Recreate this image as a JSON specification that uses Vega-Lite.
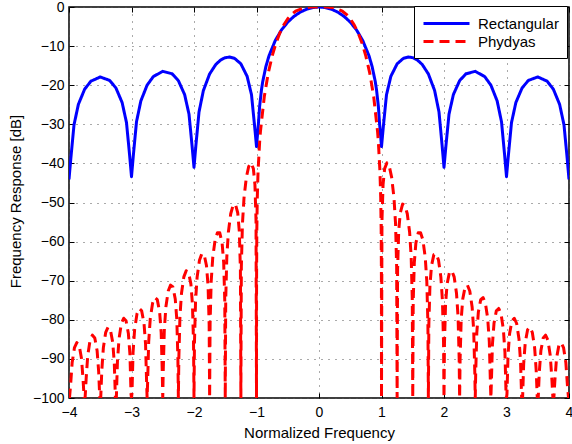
{
  "$schema": "https://vega.github.io/schema/vega-lite/v6.json",
  "autosize": {"type": "none"},
  "padding": {"left": 69, "top": 7, "right": 3, "bottom": 46},
  "width": 500,
  "height": 391,
  "background": "white",
  "data": {"values": [
    {"s":"Rectangular","f":0,"db":0},
    {"s":"Rectangular","f":0.1,"db":-0.14},{"s":"Rectangular","f":0.2,"db":-0.57},{"s":"Rectangular","f":0.3,"db":-1.31},{"s":"Rectangular","f":0.4,"db":-2.38},{"s":"Rectangular","f":0.5,"db":-3.87},{"s":"Rectangular","f":0.6,"db":-5.86},{"s":"Rectangular","f":0.7,"db":-8.58},{"s":"Rectangular","f":0.8,"db":-12.48},{"s":"Rectangular","f":0.85,"db":-15.23},{"s":"Rectangular","f":0.9,"db":-19.05},{"s":"Rectangular","f":0.92,"db":-21.12},{"s":"Rectangular","f":0.95,"db":-25.41},{"s":"Rectangular","f":0.97,"db":-29.99},{"s":"Rectangular","f":1,"db":-35.7},
    {"s":"Rectangular","f":1.03,"db":-30.49},{"s":"Rectangular","f":1.08,"db":-22.44},{"s":"Rectangular","f":1.15,"db":-17.72},{"s":"Rectangular","f":1.25,"db":-14.54},{"s":"Rectangular","f":1.35,"db":-13.14},{"s":"Rectangular","f":1.43,"db":-12.8},{"s":"Rectangular","f":1.5,"db":-12.96},{"s":"Rectangular","f":1.57,"db":-13.51},{"s":"Rectangular","f":1.65,"db":-14.67},{"s":"Rectangular","f":1.75,"db":-17.12},{"s":"Rectangular","f":1.85,"db":-21.37},{"s":"Rectangular","f":1.92,"db":-26.86},{"s":"Rectangular","f":1.97,"db":-35.48},{"s":"Rectangular","f":2,"db":-41.0},
    {"s":"Rectangular","f":2.03,"db":-35.68},{"s":"Rectangular","f":2.08,"db":-27.41},{"s":"Rectangular","f":2.15,"db":-22.4},{"s":"Rectangular","f":2.25,"db":-18.84},{"s":"Rectangular","f":2.35,"db":-17.09},{"s":"Rectangular","f":2.5,"db":-16.46},{"s":"Rectangular","f":2.65,"db":-17.78},{"s":"Rectangular","f":2.75,"db":-19.98},{"s":"Rectangular","f":2.85,"db":-24.0},{"s":"Rectangular","f":2.92,"db":-29.35},{"s":"Rectangular","f":2.97,"db":-37.86},{"s":"Rectangular","f":3,"db":-43.4},
    {"s":"Rectangular","f":3.03,"db":-37.95},{"s":"Rectangular","f":3.08,"db":-29.57},{"s":"Rectangular","f":3.15,"db":-24.43},{"s":"Rectangular","f":3.25,"db":-20.69},{"s":"Rectangular","f":3.35,"db":-18.78},{"s":"Rectangular","f":3.5,"db":-17.89},{"s":"Rectangular","f":3.65,"db":-18.98},{"s":"Rectangular","f":3.75,"db":-21.03},{"s":"Rectangular","f":3.85,"db":-24.91},{"s":"Rectangular","f":3.92,"db":-30.15},{"s":"Rectangular","f":3.97,"db":-38.59},{"s":"Rectangular","f":4,"db":-44.1},
    {"s":"Rectangular","f":-0.1,"db":-0.14},{"s":"Rectangular","f":-0.2,"db":-0.57},{"s":"Rectangular","f":-0.3,"db":-1.31},{"s":"Rectangular","f":-0.4,"db":-2.38},{"s":"Rectangular","f":-0.5,"db":-3.87},{"s":"Rectangular","f":-0.6,"db":-5.86},{"s":"Rectangular","f":-0.7,"db":-8.58},{"s":"Rectangular","f":-0.8,"db":-12.48},{"s":"Rectangular","f":-0.85,"db":-15.23},{"s":"Rectangular","f":-0.9,"db":-19.05},{"s":"Rectangular","f":-0.92,"db":-21.12},{"s":"Rectangular","f":-0.95,"db":-25.41},{"s":"Rectangular","f":-0.97,"db":-29.99},{"s":"Rectangular","f":-1,"db":-35.7},
    {"s":"Rectangular","f":-1.03,"db":-30.49},{"s":"Rectangular","f":-1.08,"db":-22.44},{"s":"Rectangular","f":-1.15,"db":-17.72},{"s":"Rectangular","f":-1.25,"db":-14.54},{"s":"Rectangular","f":-1.35,"db":-13.14},{"s":"Rectangular","f":-1.43,"db":-12.8},{"s":"Rectangular","f":-1.5,"db":-12.96},{"s":"Rectangular","f":-1.57,"db":-13.51},{"s":"Rectangular","f":-1.65,"db":-14.67},{"s":"Rectangular","f":-1.75,"db":-17.12},{"s":"Rectangular","f":-1.85,"db":-21.37},{"s":"Rectangular","f":-1.92,"db":-26.86},{"s":"Rectangular","f":-1.97,"db":-35.48},{"s":"Rectangular","f":-2,"db":-41.0},
    {"s":"Rectangular","f":-2.03,"db":-35.68},{"s":"Rectangular","f":-2.08,"db":-27.41},{"s":"Rectangular","f":-2.15,"db":-22.4},{"s":"Rectangular","f":-2.25,"db":-18.84},{"s":"Rectangular","f":-2.35,"db":-17.09},{"s":"Rectangular","f":-2.5,"db":-16.46},{"s":"Rectangular","f":-2.65,"db":-17.78},{"s":"Rectangular","f":-2.75,"db":-19.98},{"s":"Rectangular","f":-2.85,"db":-24.0},{"s":"Rectangular","f":-2.92,"db":-29.35},{"s":"Rectangular","f":-2.97,"db":-37.86},{"s":"Rectangular","f":-3,"db":-43.4},
    {"s":"Rectangular","f":-3.03,"db":-37.95},{"s":"Rectangular","f":-3.08,"db":-29.57},{"s":"Rectangular","f":-3.15,"db":-24.43},{"s":"Rectangular","f":-3.25,"db":-20.69},{"s":"Rectangular","f":-3.35,"db":-18.78},{"s":"Rectangular","f":-3.5,"db":-17.89},{"s":"Rectangular","f":-3.65,"db":-18.98},{"s":"Rectangular","f":-3.75,"db":-21.03},{"s":"Rectangular","f":-3.85,"db":-24.91},{"s":"Rectangular","f":-3.92,"db":-30.15},{"s":"Rectangular","f":-3.97,"db":-38.59},{"s":"Rectangular","f":-4,"db":-44.1},

    {"s":"Phydyas","f":0,"db":0},
    {"s":"Phydyas","f":0.125,"db":-0.02},{"s":"Phydyas","f":0.25,"db":-0.25},{"s":"Phydyas","f":0.375,"db":-1.08},{"s":"Phydyas","f":0.4375,"db":-1.88},{"s":"Phydyas","f":0.5,"db":-3.01},{"s":"Phydyas","f":0.5625,"db":-4.55},{"s":"Phydyas","f":0.625,"db":-6.58},{"s":"Phydyas","f":0.6875,"db":-9.2},{"s":"Phydyas","f":0.75,"db":-12.57},{"s":"Phydyas","f":0.8125,"db":-16.95},{"s":"Phydyas","f":0.875,"db":-22.88},{"s":"Phydyas","f":0.9375,"db":-31.91},{"s":"Phydyas","f":0.95,"db":-34.54},{"s":"Phydyas","f":0.975,"db":-42.03},{"s":"Phydyas","f":0.9875,"db":-48.84},{"s":"Phydyas","f":0.995,"db":-57.29},{"s":"Phydyas","f":0.99875,"db":-69.5},{"s":"Phydyas","f":1,"db":-100},
    {"s":"Phydyas","f":1.0075,"db":-54.61},{"s":"Phydyas","f":1.025,"db":-45.42},{"s":"Phydyas","f":1.05,"db":-41.35},{"s":"Phydyas","f":1.0875,"db":-39.85},{"s":"Phydyas","f":1.125,"db":-40.79},{"s":"Phydyas","f":1.1625,"db":-43.58},{"s":"Phydyas","f":1.2,"db":-48.85},{"s":"Phydyas","f":1.225,"db":-55.48},{"s":"Phydyas","f":1.2425,"db":-66.5},{"s":"Phydyas","f":1.25,"db":-100},
    {"s":"Phydyas","f":1.2575,"db":-67.09},{"s":"Phydyas","f":1.275,"db":-57.38},{"s":"Phydyas","f":1.3,"db":-52.68},{"s":"Phydyas","f":1.3375,"db":-50.41},{"s":"Phydyas","f":1.375,"db":-50.75},{"s":"Phydyas","f":1.4125,"db":-52.88},{"s":"Phydyas","f":1.45,"db":-57.61},{"s":"Phydyas","f":1.475,"db":-63.95},{"s":"Phydyas","f":1.4925,"db":-74.81},{"s":"Phydyas","f":1.5,"db":-100},
    {"s":"Phydyas","f":1.5075,"db":-75.22},{"s":"Phydyas","f":1.525,"db":-65.35},{"s":"Phydyas","f":1.55,"db":-60.4},{"s":"Phydyas","f":1.5875,"db":-57.76},{"s":"Phydyas","f":1.625,"db":-57.73},{"s":"Phydyas","f":1.6625,"db":-59.58},{"s":"Phydyas","f":1.7,"db":-64.04},{"s":"Phydyas","f":1.725,"db":-70.2},{"s":"Phydyas","f":1.7425,"db":-80.93},{"s":"Phydyas","f":1.75,"db":-100},
    {"s":"Phydyas","f":1.7575,"db":-81.25},{"s":"Phydyas","f":1.775,"db":-71.28},{"s":"Phydyas","f":1.8,"db":-66.19},{"s":"Phydyas","f":1.8375,"db":-63.34},{"s":"Phydyas","f":1.875,"db":-63.1},{"s":"Phydyas","f":1.9125,"db":-64.78},{"s":"Phydyas","f":1.95,"db":-69.08},{"s":"Phydyas","f":1.975,"db":-75.12},{"s":"Phydyas","f":1.9925,"db":-85.77},{"s":"Phydyas","f":2,"db":-100},
    {"s":"Phydyas","f":2.0075,"db":-86.03},{"s":"Phydyas","f":2.025,"db":-76.0},{"s":"Phydyas","f":2.05,"db":-70.82},{"s":"Phydyas","f":2.0875,"db":-67.84},{"s":"Phydyas","f":2.125,"db":-67.46},{"s":"Phydyas","f":2.1625,"db":-69.03},{"s":"Phydyas","f":2.2,"db":-73.21},{"s":"Phydyas","f":2.225,"db":-79.18},{"s":"Phydyas","f":2.2425,"db":-89.78},{"s":"Phydyas","f":2.25,"db":-100},
    {"s":"Phydyas","f":2.2575,"db":-90.0},{"s":"Phydyas","f":2.275,"db":-79.91},{"s":"Phydyas","f":2.3,"db":-74.68},{"s":"Phydyas","f":2.3375,"db":-71.6},{"s":"Phydyas","f":2.375,"db":-71.13},{"s":"Phydyas","f":2.4125,"db":-72.62},{"s":"Phydyas","f":2.45,"db":-76.72},{"s":"Phydyas","f":2.475,"db":-82.64},{"s":"Phydyas","f":2.4925,"db":-93.2},{"s":"Phydyas","f":2.5,"db":-100},
    {"s":"Phydyas","f":2.5075,"db":-93.39},{"s":"Phydyas","f":2.525,"db":-83.28},{"s":"Phydyas","f":2.55,"db":-77.99},{"s":"Phydyas","f":2.5875,"db":-74.84},{"s":"Phydyas","f":2.625,"db":-74.3},{"s":"Phydyas","f":2.6625,"db":-75.73},{"s":"Phydyas","f":2.7,"db":-79.77},{"s":"Phydyas","f":2.725,"db":-85.65},{"s":"Phydyas","f":2.7425,"db":-96.18},{"s":"Phydyas","f":2.75,"db":-100},
    {"s":"Phydyas","f":2.7575,"db":-96.35},{"s":"Phydyas","f":2.775,"db":-86.21},{"s":"Phydyas","f":2.8,"db":-80.89},{"s":"Phydyas","f":2.8375,"db":-77.69},{"s":"Phydyas","f":2.875,"db":-77.1},{"s":"Phydyas","f":2.9125,"db":-78.48},{"s":"Phydyas","f":2.95,"db":-82.48},{"s":"Phydyas","f":2.975,"db":-88.32},{"s":"Phydyas","f":2.9925,"db":-98.83},{"s":"Phydyas","f":3,"db":-100},
    {"s":"Phydyas","f":3.0075,"db":-98.98},{"s":"Phydyas","f":3.025,"db":-88.82},{"s":"Phydyas","f":3.05,"db":-83.48},{"s":"Phydyas","f":3.0875,"db":-80.23},{"s":"Phydyas","f":3.125,"db":-79.6},{"s":"Phydyas","f":3.1625,"db":-80.95},{"s":"Phydyas","f":3.2,"db":-84.91},{"s":"Phydyas","f":3.225,"db":-90.73},{"s":"Phydyas","f":3.2425,"db":-100},{"s":"Phydyas","f":3.25,"db":-100},
    {"s":"Phydyas","f":3.2575,"db":-100},{"s":"Phydyas","f":3.275,"db":-91.18},{"s":"Phydyas","f":3.3,"db":-85.81},{"s":"Phydyas","f":3.3375,"db":-82.54},{"s":"Phydyas","f":3.375,"db":-81.87},{"s":"Phydyas","f":3.4125,"db":-83.19},{"s":"Phydyas","f":3.45,"db":-87.12},{"s":"Phydyas","f":3.475,"db":-92.92},{"s":"Phydyas","f":3.4925,"db":-100},{"s":"Phydyas","f":3.5,"db":-100},
    {"s":"Phydyas","f":3.5075,"db":-100},{"s":"Phydyas","f":3.525,"db":-93.33},{"s":"Phydyas","f":3.55,"db":-87.94},{"s":"Phydyas","f":3.5875,"db":-84.63},{"s":"Phydyas","f":3.625,"db":-83.93},{"s":"Phydyas","f":3.6625,"db":-85.22},{"s":"Phydyas","f":3.7,"db":-89.13},{"s":"Phydyas","f":3.725,"db":-94.91},{"s":"Phydyas","f":3.7425,"db":-100},{"s":"Phydyas","f":3.75,"db":-100},
    {"s":"Phydyas","f":3.7575,"db":-100},{"s":"Phydyas","f":3.775,"db":-95.3},{"s":"Phydyas","f":3.8,"db":-89.89},{"s":"Phydyas","f":3.8375,"db":-86.56},{"s":"Phydyas","f":3.875,"db":-85.84},{"s":"Phydyas","f":3.9125,"db":-87.11},{"s":"Phydyas","f":3.95,"db":-91.0},{"s":"Phydyas","f":3.975,"db":-96.77},{"s":"Phydyas","f":3.9925,"db":-100},{"s":"Phydyas","f":4,"db":-100},
    {"s":"Phydyas","f":-0.125,"db":-0.02},{"s":"Phydyas","f":-0.25,"db":-0.25},{"s":"Phydyas","f":-0.375,"db":-1.08},{"s":"Phydyas","f":-0.4375,"db":-1.88},{"s":"Phydyas","f":-0.5,"db":-3.01},{"s":"Phydyas","f":-0.5625,"db":-4.55},{"s":"Phydyas","f":-0.625,"db":-6.58},{"s":"Phydyas","f":-0.6875,"db":-9.2},{"s":"Phydyas","f":-0.75,"db":-12.57},{"s":"Phydyas","f":-0.8125,"db":-16.95},{"s":"Phydyas","f":-0.875,"db":-22.88},{"s":"Phydyas","f":-0.9375,"db":-31.91},{"s":"Phydyas","f":-0.95,"db":-34.54},{"s":"Phydyas","f":-0.975,"db":-42.03},{"s":"Phydyas","f":-0.9875,"db":-48.84},{"s":"Phydyas","f":-0.995,"db":-57.29},{"s":"Phydyas","f":-0.99875,"db":-69.5},{"s":"Phydyas","f":-1,"db":-100},
    {"s":"Phydyas","f":-1.0075,"db":-54.61},{"s":"Phydyas","f":-1.025,"db":-45.42},{"s":"Phydyas","f":-1.05,"db":-41.35},{"s":"Phydyas","f":-1.0875,"db":-39.85},{"s":"Phydyas","f":-1.125,"db":-40.79},{"s":"Phydyas","f":-1.1625,"db":-43.58},{"s":"Phydyas","f":-1.2,"db":-48.85},{"s":"Phydyas","f":-1.225,"db":-55.48},{"s":"Phydyas","f":-1.2425,"db":-66.5},{"s":"Phydyas","f":-1.25,"db":-100},
    {"s":"Phydyas","f":-1.2575,"db":-67.09},{"s":"Phydyas","f":-1.275,"db":-57.38},{"s":"Phydyas","f":-1.3,"db":-52.68},{"s":"Phydyas","f":-1.3375,"db":-50.41},{"s":"Phydyas","f":-1.375,"db":-50.75},{"s":"Phydyas","f":-1.4125,"db":-52.88},{"s":"Phydyas","f":-1.45,"db":-57.61},{"s":"Phydyas","f":-1.475,"db":-63.95},{"s":"Phydyas","f":-1.4925,"db":-74.81},{"s":"Phydyas","f":-1.5,"db":-100},
    {"s":"Phydyas","f":-1.5075,"db":-75.22},{"s":"Phydyas","f":-1.525,"db":-65.35},{"s":"Phydyas","f":-1.55,"db":-60.4},{"s":"Phydyas","f":-1.5875,"db":-57.76},{"s":"Phydyas","f":-1.625,"db":-57.73},{"s":"Phydyas","f":-1.6625,"db":-59.58},{"s":"Phydyas","f":-1.7,"db":-64.04},{"s":"Phydyas","f":-1.725,"db":-70.2},{"s":"Phydyas","f":-1.7425,"db":-80.93},{"s":"Phydyas","f":-1.75,"db":-100},
    {"s":"Phydyas","f":-1.7575,"db":-81.25},{"s":"Phydyas","f":-1.775,"db":-71.28},{"s":"Phydyas","f":-1.8,"db":-66.19},{"s":"Phydyas","f":-1.8375,"db":-63.34},{"s":"Phydyas","f":-1.875,"db":-63.1},{"s":"Phydyas","f":-1.9125,"db":-64.78},{"s":"Phydyas","f":-1.95,"db":-69.08},{"s":"Phydyas","f":-1.975,"db":-75.12},{"s":"Phydyas","f":-1.9925,"db":-85.77},{"s":"Phydyas","f":-2,"db":-100},
    {"s":"Phydyas","f":-2.0075,"db":-86.03},{"s":"Phydyas","f":-2.025,"db":-76.0},{"s":"Phydyas","f":-2.05,"db":-70.82},{"s":"Phydyas","f":-2.0875,"db":-67.84},{"s":"Phydyas","f":-2.125,"db":-67.46},{"s":"Phydyas","f":-2.1625,"db":-69.03},{"s":"Phydyas","f":-2.2,"db":-73.21},{"s":"Phydyas","f":-2.225,"db":-79.18},{"s":"Phydyas","f":-2.2425,"db":-89.78},{"s":"Phydyas","f":-2.25,"db":-100},
    {"s":"Phydyas","f":-2.2575,"db":-90.0},{"s":"Phydyas","f":-2.275,"db":-79.91},{"s":"Phydyas","f":-2.3,"db":-74.68},{"s":"Phydyas","f":-2.3375,"db":-71.6},{"s":"Phydyas","f":-2.375,"db":-71.13},{"s":"Phydyas","f":-2.4125,"db":-72.62},{"s":"Phydyas","f":-2.45,"db":-76.72},{"s":"Phydyas","f":-2.475,"db":-82.64},{"s":"Phydyas","f":-2.4925,"db":-93.2},{"s":"Phydyas","f":-2.5,"db":-100},
    {"s":"Phydyas","f":-2.5075,"db":-93.39},{"s":"Phydyas","f":-2.525,"db":-83.28},{"s":"Phydyas","f":-2.55,"db":-77.99},{"s":"Phydyas","f":-2.5875,"db":-74.84},{"s":"Phydyas","f":-2.625,"db":-74.3},{"s":"Phydyas","f":-2.6625,"db":-75.73},{"s":"Phydyas","f":-2.7,"db":-79.77},{"s":"Phydyas","f":-2.725,"db":-85.65},{"s":"Phydyas","f":-2.7425,"db":-96.18},{"s":"Phydyas","f":-2.75,"db":-100},
    {"s":"Phydyas","f":-2.7575,"db":-96.35},{"s":"Phydyas","f":-2.775,"db":-86.21},{"s":"Phydyas","f":-2.8,"db":-80.89},{"s":"Phydyas","f":-2.8375,"db":-77.69},{"s":"Phydyas","f":-2.875,"db":-77.1},{"s":"Phydyas","f":-2.9125,"db":-78.48},{"s":"Phydyas","f":-2.95,"db":-82.48},{"s":"Phydyas","f":-2.975,"db":-88.32},{"s":"Phydyas","f":-2.9925,"db":-98.83},{"s":"Phydyas","f":-3,"db":-100},
    {"s":"Phydyas","f":-3.0075,"db":-98.98},{"s":"Phydyas","f":-3.025,"db":-88.82},{"s":"Phydyas","f":-3.05,"db":-83.48},{"s":"Phydyas","f":-3.0875,"db":-80.23},{"s":"Phydyas","f":-3.125,"db":-79.6},{"s":"Phydyas","f":-3.1625,"db":-80.95},{"s":"Phydyas","f":-3.2,"db":-84.91},{"s":"Phydyas","f":-3.225,"db":-90.73},{"s":"Phydyas","f":-3.2425,"db":-100},{"s":"Phydyas","f":-3.25,"db":-100},
    {"s":"Phydyas","f":-3.2575,"db":-100},{"s":"Phydyas","f":-3.275,"db":-91.18},{"s":"Phydyas","f":-3.3,"db":-85.81},{"s":"Phydyas","f":-3.3375,"db":-82.54},{"s":"Phydyas","f":-3.375,"db":-81.87},{"s":"Phydyas","f":-3.4125,"db":-83.19},{"s":"Phydyas","f":-3.45,"db":-87.12},{"s":"Phydyas","f":-3.475,"db":-92.92},{"s":"Phydyas","f":-3.4925,"db":-100},{"s":"Phydyas","f":-3.5,"db":-100},
    {"s":"Phydyas","f":-3.5075,"db":-100},{"s":"Phydyas","f":-3.525,"db":-93.33},{"s":"Phydyas","f":-3.55,"db":-87.94},{"s":"Phydyas","f":-3.5875,"db":-84.63},{"s":"Phydyas","f":-3.625,"db":-83.93},{"s":"Phydyas","f":-3.6625,"db":-85.22},{"s":"Phydyas","f":-3.7,"db":-89.13},{"s":"Phydyas","f":-3.725,"db":-94.91},{"s":"Phydyas","f":-3.7425,"db":-100},{"s":"Phydyas","f":-3.75,"db":-100},
    {"s":"Phydyas","f":-3.7575,"db":-100},{"s":"Phydyas","f":-3.775,"db":-95.3},{"s":"Phydyas","f":-3.8,"db":-89.89},{"s":"Phydyas","f":-3.8375,"db":-86.56},{"s":"Phydyas","f":-3.875,"db":-85.84},{"s":"Phydyas","f":-3.9125,"db":-87.11},{"s":"Phydyas","f":-3.95,"db":-91.0},{"s":"Phydyas","f":-3.975,"db":-96.77},{"s":"Phydyas","f":-3.9925,"db":-100},{"s":"Phydyas","f":-4,"db":-100}
  ]},
  "layer": [
    {
      "mark": {"type": "line", "strokeWidth": 3, "strokeJoin": "round", "clip": true},
      "encoding": {
        "x": {"field": "f", "type": "quantitative",
              "scale": {"domain": [-4, 4], "nice": false, "zero": false},
              "axis": {"orient": "bottom", "values": [-4,-3,-2,-1,0,1,2,3,4], "title": "Normalized Frequency",
                       "grid": true, "labelPadding": 12, "titleY": 34, "titleBaseline": "middle"}},
        "y": {"field": "db", "type": "quantitative",
              "scale": {"domain": [-100, 0], "nice": false, "zero": false},
              "axis": {"orient": "left", "values": [-100,-90,-80,-70,-60,-50,-40,-30,-20,-10,0], "title": "Frequency Response [dB]",
                       "grid": true, "labelPadding": 10, "titleX": -54, "titleY": 194, "titleAngle": -90, "titleBaseline": "middle", "titleAlign": "center"}},
        "color": {"field": "s", "type": "nominal",
                  "scale": {"domain": ["Rectangular", "Phydyas"], "range": ["#0000ff", "#ff0000"]},
                  "legend": {"title": null}},
        "strokeDash": {"field": "s", "type": "nominal",
                  "scale": {"domain": ["Rectangular", "Phydyas"], "range": [[1, 0], [10, 6]]},
                  "legend": {"title": null}}
      }
    },
    {
      "mark": {"type": "line", "strokeOpacity": 0},
      "encoding": {
        "x": {"field": "f", "type": "quantitative",
              "axis": {"orient": "top", "values": [-4,-3,-2,-1,0,1,2,3,4], "title": null, "labels": false, "grid": false}},
        "y": {"field": "db", "type": "quantitative",
              "axis": {"orient": "right", "values": [-100,-90,-80,-70,-60,-50,-40,-30,-20,-10,0], "title": null, "labels": false, "grid": false}},
        "detail": {"field": "s"}
      }
    }
  ],
  "resolve": {"axis": {"x": "independent", "y": "independent"}},
  "config": {
    "view": {"stroke": "black", "strokeWidth": 1.5},
    "font": "Liberation Sans",
    "axis": {
      "domain": false,
      "ticks": true,
      "tickSize": -5,
      "tickColor": "black",
      "tickWidth": 1,
      "labelFont": "Liberation Sans",
      "labelFontSize": 14,
      "labelColor": "black",
      "labelFlush": false,
      "labelOverlap": false,
      "titleFont": "Liberation Sans",
      "titleFontSize": 15,
      "titleFontWeight": "normal",
      "titleColor": "black",
      "gridColor": "#555555",
      "gridDash": [1, 6],
      "gridWidth": 1,
      "gridOpacity": 1
    },
    "legend": {
      "orient": "none",
      "legendX": 345,
      "legendY": -1,
      "strokeColor": "black",
      "fillColor": "white",
      "padding": 8,
      "symbolType": "M-1,0H4.75",
      "symbolSize": 256,
      "symbolStrokeWidth": 3,
      "labelFont": "Liberation Sans",
      "labelFontSize": 15,
      "labelColor": "black",
      "labelOffset": 37,
      "rowPadding": 0,
      "cornerRadius": 0
    }
  }
}
